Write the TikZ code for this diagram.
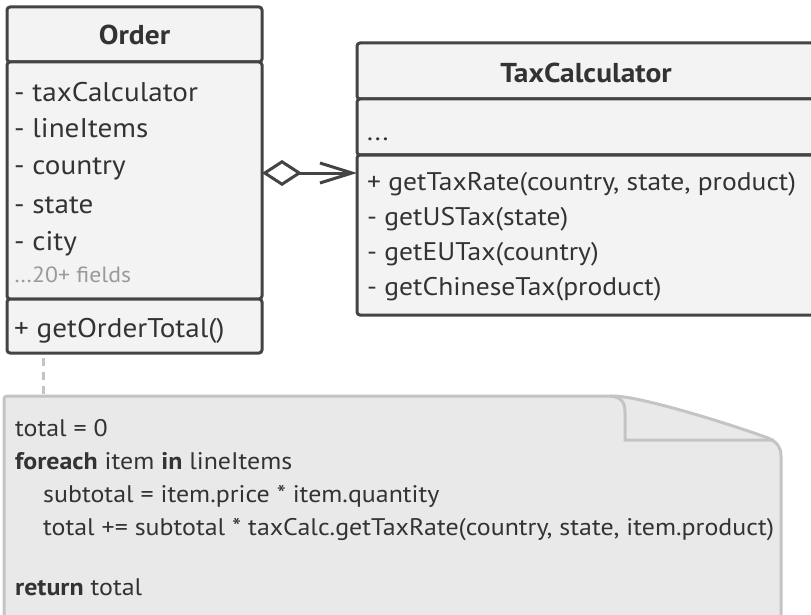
\documentclass[tikz,border=0pt]{standalone}
\usepackage{fontspec}
\setmainfont{PT Sans}[FakeStretch=1.08]
\usepackage{tikz}
\usetikzlibrary{arrows.meta}
\usetikzlibrary{positioning}
\definecolor{umlline}{HTML}{444444}
\definecolor{umlfill}{HTML}{F3F3F3}
\definecolor{umltext}{HTML}{333333}
\definecolor{faint}{HTML}{9A9A9A}
\definecolor{noteline}{HTML}{C4C4C4}
\definecolor{notefill}{HTML}{E9E9E9}
\tikzstyle{compartment}=[rectangle,draw=umlline,fill=umlfill,line width=3pt,rounded corners=3pt,inner sep=0pt,outer sep=0pt,anchor=north west]
\tikzstyle{member}=[anchor=base west,inner sep=0pt,text=umltext,font=\fontsize{27}{30}\selectfont]
\tikzstyle{smallmember}=[anchor=base west,inner sep=0pt,text=umltext,font=\fontsize{25.5}{29}\selectfont]
\tikzstyle{classname}=[anchor=base,inner sep=0pt,text=umltext,font=\fontsize{27.3}{30}\selectfont\bfseries]
\tikzstyle{codeline}=[anchor=base west,inner sep=0pt,text=umltext,font=\fontsize{24}{28}\selectfont]
\tikzstyle{aggregation}=[draw=umlline,line width=3pt,{Diamond[open,length=40pt,width=26pt]}-{Straight Barb[length=32pt,width=20pt]}]
\tikzset{noteconn/.style={draw=noteline,line width=3pt,dash pattern=on 8pt off 6pt}}

\begin{document}
\begin{tikzpicture}[x=1pt,y=-1pt]

  \useasboundingbox (0,0) rectangle (811,615);

  % note with folded corner
  \draw[draw=noteline,fill=notefill,line width=3pt,rounded corners=3pt]
    (4,630) -- (4,396) -- (610,396) [sharp corners]
    .. controls (640,396) and (730,424) .. (768,438)
    .. controls (777,442) and (781,447) .. (781,456) -- (781,630) -- cycle;
  \draw[draw=noteline,line width=3pt]
    (610,396) .. controls (621,397) and (625,402) .. (625,412) -- (625,440) -- (774,440);

  % class compartments
  \foreach \x/\y/\w/\h/\name in {7/7/255/55/orderHead, 7/62/255/237/orderFields, 7/299/255/54/orderOps,
                                  357/43/458/56/taxHead, 357/99/458/56/taxFields, 357/155/458/160/taxOps}
          \node[compartment,minimum width=\w pt,minimum height=\h pt] (\name) at (\x,\y) {};

  \node[classname] (orderName) at (134.5,45) {Order};
  \node[classname] (taxName) at (586,83) {TaxCalculator};

  \foreach \y/\name/\label in {102/fTax/taxCalculator, 138/fItems/lineItems, 175/fCountry/country,
                               213/fState/state, 250/fCity/city}
          \node[member] (\name) at (14,\y) {- \label};
  \node[member,text=faint,font=\fontsize{22}{25}\selectfont] (fMore) at (14,282) {…20+ fields};
  \node[member] (mTotal) at (14,337) {+ getOrderTotal()};

  \node[smallmember] (tDots) at (367,140) {...};
  \foreach \y/\name/\label in {190/mRate/{+ getTaxRate(country, state, product)}, 225/mUS/{- getUSTax(state)},
                               260/mEU/{- getEUTax(country)}, 295/mCN/{- getChineseTax(product)}}
          \node[smallmember] (\name) at (367,\y) {\label};

  % code inside the note
  \foreach \x/\y/\name/\label in {15/436/cInit/{total = 0}, 15/469/cLoop/{\textbf{foreach} item \textbf{in} lineItems},
                                  43/502/cSub/{subtotal = item.price * item.quantity},
                                  43/535/cAdd/{total += subtotal * taxCalc.getTaxRate(country, state, item.product)},
                                  15/595/cRet/{\textbf{return} total}}
          \node[codeline] (\name) at (\x,\y) {\label};

  \coordinate (noteTop) at (43,396);
  \path[noteconn] (orderOps.south -| noteTop) ++(0,5) -- (noteTop);

  \path[aggregation] (orderFields.east |- 0,173) -- (taxOps.west |- 0,173);

\end{tikzpicture}
\end{document}
